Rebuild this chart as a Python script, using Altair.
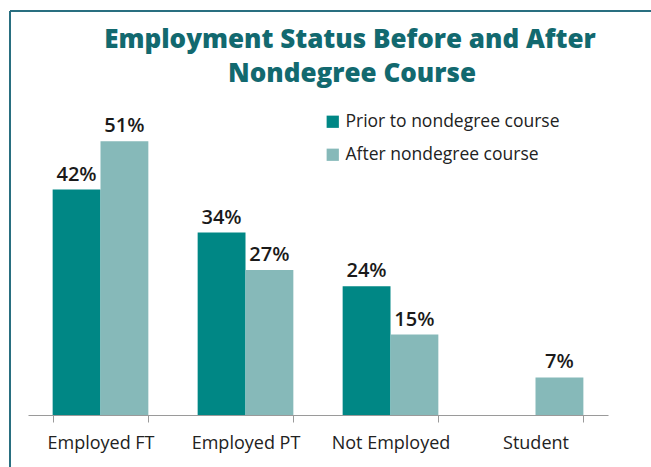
import altair as alt
import pandas as pd

categories = ["Employed FT", "Employed PT", "Not Employed", "Student"]
series = ["Prior to nondegree course", "After nondegree course"]
prior_values = [42, 34, 24, None]
after_values = [51, 27, 15, 7]
title_lines = ["Employment Status Before and After", "Nondegree Course"]

rows = []
for c, p, a in zip(categories, prior_values, after_values):
    if p is not None:
        rows.append({"cat": c, "series": series[0], "value": p, "label": f"{p}%"})
    if a is not None:
        rows.append({"cat": c, "series": series[1], "value": a, "label": f"{a}%"})
df = pd.DataFrame(rows)

FONT = "Open Sans"
W, H = 580, 322

x = alt.X("cat:N", sort=categories, title=None,
          scale=alt.Scale(paddingInner=0.34, paddingOuter=0.17),
          axis=alt.Axis(labelAngle=0, labelFont=FONT, labelFontSize=18, labelColor="#222222",
                        domainColor="#9a9a9a", tickColor="#9a9a9a", tickSize=7,
                        tickBand="extent", labelPadding=12, domainWidth=1.2))
xo = alt.XOffset("series:N", sort=series, scale=alt.Scale(domain=series, paddingInner=0, paddingOuter=0))
y = alt.Y("value:Q", scale=alt.Scale(domain=[0, 60]), axis=None)

bars = alt.Chart(df).mark_bar().encode(
    x=x, xOffset=xo, y=y,
    color=alt.Color("series:N", sort=series,
                    scale=alt.Scale(domain=series, range=["#008785", "#86B9B9"]),
                    legend=alt.Legend(title=None, orient="none", legendX=296, legendY=20,
                                      symbolType="square", symbolSize=150, symbolStrokeWidth=0,
                                      labelFont=FONT, labelFontSize=17.5, labelColor="#222222",
                                      labelLimit=400, rowPadding=14, labelOffset=4)),
)

labels = alt.Chart(df).mark_text(baseline="alphabetic", dy=-9, font=FONT, fontSize=20,
                                 fontWeight=600, color="#1a1a1a").encode(
    x=x, xOffset=xo, y=y, text="label:N"
)

frame_top = alt.Chart(df).mark_rule(color="#2a6f80", strokeWidth=1.5).encode(
    x=alt.value(-18), x2=alt.value(640), y=alt.value(-82)
)
frame_left = alt.Chart(df).mark_rule(color="#2a6f80", strokeWidth=1.5).encode(
    x=alt.value(-18), y=alt.value(-82), y2=alt.value(380)
)

tdf = pd.DataFrame({"t": title_lines, "line": [0, 1]})
title1 = alt.Chart(tdf[tdf.line == 0]).mark_text(
    font=FONT, fontSize=26, fontWeight=800, color="#12696F", align="center", baseline="alphabetic"
).encode(text="t:N", x=alt.value(322), y=alt.value(-45))
title2 = alt.Chart(tdf[tdf.line == 1]).mark_text(
    font=FONT, fontSize=26, fontWeight=800, color="#12696F", align="center", baseline="alphabetic"
).encode(text="t:N", x=alt.value(324), y=alt.value(-11))

chart = alt.layer(frame_top, frame_left, bars, labels, title1, title2).properties(
    width=W, height=H,
    background="white",
    autosize=alt.AutoSizeParams(type="none"),
    padding={"left": 28, "top": 93, "right": 43, "bottom": 52},
).configure_view(strokeWidth=0, stroke=None)

chart.save("out.html", embed_options={"renderer": "svg", "actions": False})
